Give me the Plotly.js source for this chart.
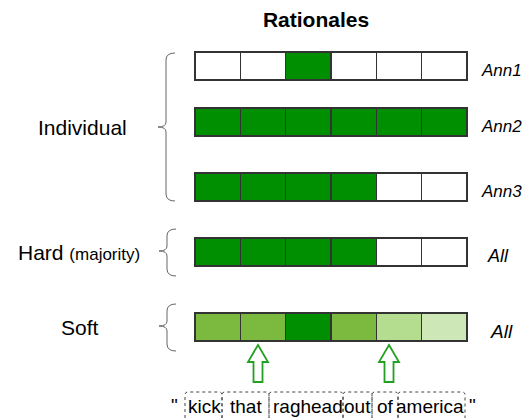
<!DOCTYPE html>
<html>
<head>
<meta charset="utf-8">
<script src="https://cdn.plot.ly/plotly-3.0.1.min.js"></script>
<style>html,body{margin:0;padding:0;background:#fff;}#chart{width:529px;height:418px;}</style>
</head>
<body>
<div id="chart"></div>
<script>
// ---- data ----
const tokens = ["kick", "that", "raghead", "out", "of", "america"];
const rowNames = ["Ann1", "Ann2", "Ann3", "All", "All"];
const groups = ["Individual", "Hard", "Soft"];
const ann1 = [0, 0, 1, 0, 0, 0];
const ann2 = [1, 1, 1, 1, 1, 1];
const ann3 = [1, 1, 1, 1, 0, 0];
const hard = [1, 1, 1, 1, 0, 0];
const soft = [0.67, 0.67, 1, 0.67, 0.45, 0.34];
const rationaleRows = [ann1, ann2, ann3, hard, soft];

// ---- layout constants (pixel space) ----
const W = 529, H = 418;
const rowY = [66, 122, 187, 252, 327];
const rowH = 28;
const cellX0 = 195, cellX1 = 467;
const unit = (cellX1 - cellX0) / tokens.length;
const font = "Liberation Sans, Arial, Helvetica, sans-serif";

const colorscale = [
  [0, "#ffffff"], [0.2, "#dff0d0"], [0.34, "#cde8b6"], [0.45, "#b4dd90"],
  [0.67, "#7bba3f"], [1, "#008f00"]
];

const traces = tokens.map((tok, j) => ({
  type: "bar",
  orientation: "h",
  name: tok,
  xaxis: "x2",
  yaxis: "y",
  y: rowY,
  x: rationaleRows.map(() => 1),
  width: rowH,
  marker: {
    color: rationaleRows.map(r => r[j]),
    colorscale: colorscale, cmin: 0, cmax: 1,
    line: { color: "#333333", width: 1.2 }
  },
  hoverinfo: "skip",
  showlegend: false
}));

// ---- shapes ----
const shapes = [];
function brace(xTip, xLine, xEnd, yTop, yBot, yTip) {
  const r = 7;
  const p = `M ${xEnd},${yTop} Q ${xLine},${yTop} ${xLine},${yTop + r} ` +
    `L ${xLine},${yTip - 5} Q ${xLine},${yTip} ${xTip},${yTip} ` +
    `Q ${xLine},${yTip} ${xLine},${yTip + 5} L ${xLine},${yBot - r} ` +
    `Q ${xLine},${yBot} ${xEnd},${yBot}`;
  shapes.push({ type: "path", xref: "x", yref: "y", path: p, line: { color: "#666666", width: 1 } });
}
brace(158, 166, 175, 53, 201, 127);
brace(159, 167, 176, 229, 276, 251);
brace(159, 167, 176, 304, 351, 326);

// arrows
const arrowX = [258, 389];
arrowX.forEach(cx => {
  const p = `M ${cx},345 L ${cx + 10},362 L ${cx + 4.5},362 L ${cx + 4.5},382 ` +
    `L ${cx - 4.5},382 L ${cx - 4.5},362 L ${cx - 10},362 Z`;
  shapes.push({ type: "path", xref: "x", yref: "y", path: p, line: { color: "#22a022", width: 1.8 } });
});

// word boxes
const boxEdges = [185, 222, 269, 343, 372, 398, 465];
for (let i = 0; i < tokens.length; i++) {
  const a = boxEdges[i], b = boxEdges[i + 1], t = 392, r = 3;
  const p = `M ${a},430 L ${a},${t + r} Q ${a},${t} ${a + r},${t} L ${b - r},${t} Q ${b},${t} ${b},${t + r} L ${b},430`;
  shapes.push({ type: "path", xref: "x", yref: "y", path: p, line: { color: "#444444", width: 1, dash: "dot" } });
}

// ---- annotations ----
const annotations = [];
function txt(x, y, text, size, opts) {
  annotations.push(Object.assign({
    xref: "x", yref: "y", x: x, y: y, text: text, showarrow: false,
    xanchor: "center", yanchor: "middle",
    font: { family: font, size: size, color: "#000" }
  }, opts || {}));
}
txt(82, 127, groups[0], 21);
txt(79, 252, groups[1] + ' <span style="font-size:17px">(majority)</span>', 21);
txt(80, 327, groups[2], 21);

const labelX = [479, 479, 479, 485, 488];
const labelSize = [17, 17, 17, 18, 19];
rowNames.forEach((n, i) => {
  txt(labelX[i], rowY[i] + 4, "<i>" + n + "</i>", labelSize[i], { xanchor: "left" });
});

const wordX = [204, 246, 308, 357, 385, 430];
tokens.forEach((t, i) => txt(wordX[i], 406, t, 19));
txt(174, 405, '"', 19);
txt(472, 405, '"', 19);

const layout = {
  width: W, height: H, autosize: false,
  margin: { l: 0, r: 0, t: 0, b: 0, pad: 0 },
  paper_bgcolor: "#ffffff", plot_bgcolor: "#ffffff",
  barmode: "stack", bargap: 0,
  title: {
    text: "<b>Rationales</b>", x: 316 / W, xanchor: "center",
    y: 1 - 20 / H, yanchor: "middle",
    font: { family: font, size: 21, color: "#000" }
  },
  xaxis: { range: [0, W], visible: false, fixedrange: true },
  xaxis2: { range: [-cellX0 / unit, (W - cellX0) / unit], overlaying: "x", visible: false, fixedrange: true },
  yaxis: { range: [H, 0], visible: false, fixedrange: true },
  shapes: shapes,
  annotations: annotations,
  showlegend: false
};

Plotly.newPlot("chart", traces, layout, { staticPlot: true, displayModeBar: false });
</script>
</body>
</html>
